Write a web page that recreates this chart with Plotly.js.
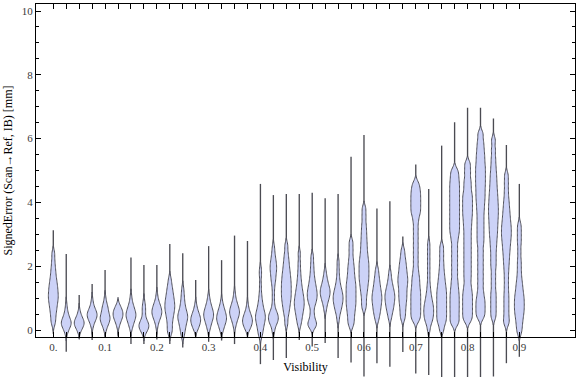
<!DOCTYPE html>
<html>
<head>
<meta charset="utf-8">
<script src="https://cdn.plot.ly/plotly-3.0.1.min.js"></script>
<style>html,body{margin:0;padding:0;background:#fff;}#chart{width:576px;height:377px;}</style>
</head>
<body>
<div id="chart"></div>
<script>
// Visibility categories (x positions of the violins)
const visibility = [0, 0.025, 0.05, 0.075, 0.1, 0.125, 0.15, 0.175, 0.2, 0.225, 0.25, 0.275, 0.3, 0.325, 0.35, 0.375,
  0.4, 0.425, 0.45, 0.475, 0.5, 0.525, 0.55, 0.575, 0.6, 0.625, 0.65, 0.675, 0.7, 0.725, 0.75, 0.775,
  0.8, 0.825, 0.85, 0.875, 0.9];
const xTickText = ['0.', '', '', '', '0.1', '', '', '', '0.2', '', '', '', '0.3', '', '', '', '0.4', '', '', '', '0.5', '', '', '', '0.6', '', '', '', '0.7', '', '', '', '0.8', '', '', '', '0.9'];
const yTickVals = [0, 2, 4, 6, 8, 10];
const yMinorTickVals = [0.5, 1, 1.5, 2.5, 3, 3.5, 4.5, 5, 5.5, 6.5, 7, 7.5, 8.5, 9, 9.5];

// Extreme signed errors [mm] per visibility bin (ends of the thin tails)
const errMin = [-0.12, -0.68, -0.25, -0.31, -0.2, -0.2, -0.44, -0.44, -0.3, -0.44, -0.55, -0.2, -0.37, -0.33, -0.44, -0.12,
  -1.07, -0.94, -0.88, -0.31, -0.52, -0.41, -0.88, -1.02, -1.46, -1.04, -1.15, -0.69, -1.36, -1.41, -1.6, -1.6,
  -1.6, -1.6, -1.46, -1.04, -0.84];
const errMax = [3.13, 2.38, 1.1, 1.44, 1.88, 0.94, 2.27, 2.04, 2.04, 2.7, 2.41, 1.57, 2.63, 2.19, 2.96, 2.79,
  4.58, 4.23, 4.26, 4.26, 4.3, 4.13, 4.26, 5.43, 6.11, 3.81, 4.04, 2.93, 5.19, 4.42, 5.78, 6.51,
  6.97, 6.97, 6.63, 5.8, 4.58];

// Bulk of the signed error samples [mm] per visibility bin
const err000 = [0.2, 0.35, 0.5, 0.62, 0.72, 0.82, 0.9, 0.98, 1.05, 1.12, 1.2, 1.28, 1.36, 1.45, 1.55, 1.66, 1.8, 1.95, 2.15, 2.4];
const err025 = [-0.1, -0.02, 0.05, 0.1, 0.13, 0.16, 0.19, 0.21, 0.23, 0.25, 0.28, 0.31, 0.35, 0.4, 0.46, 0.53, 0.62, 0.8];
const err050 = [-0.05, 0.02, 0.07, 0.11, 0.14, 0.17, 0.19, 0.21, 0.23, 0.25, 0.27, 0.3, 0.33, 0.37, 0.42, 0.48, 0.6];
const err075 = [0.1, 0.22, 0.28, 0.33, 0.37, 0.4, 0.43, 0.46, 0.48, 0.5, 0.53, 0.56, 0.6, 0.65, 0.7, 0.78, 0.95];
const err100 = [0.0, 0.12, 0.18, 0.23, 0.27, 0.31, 0.34, 0.37, 0.4, 0.43, 0.47, 0.52, 0.58, 0.64, 0.7, 0.75, 0.82, 1.0];
const err125 = [0.1, 0.22, 0.28, 0.33, 0.37, 0.41, 0.44, 0.47, 0.5, 0.53, 0.56, 0.59, 0.63, 0.67, 0.72, 0.78];
const err150 = [0.05, 0.15, 0.22, 0.28, 0.33, 0.37, 0.41, 0.44, 0.47, 0.5, 0.53, 0.57, 0.61, 0.66, 0.72, 0.78, 0.86, 1.05];
const err175 = [-0.1, -0.05, 0.0, 0.04, 0.07, 0.1, 0.12, 0.14, 0.16, 0.19, 0.22, 0.26, 0.31, 0.37, 0.5, 0.6, 0.68, 0.76, 0.9];
const err200 = [0.1, 0.25, 0.32, 0.38, 0.42, 0.46, 0.5, 0.53, 0.56, 0.59, 0.62, 0.66, 0.7, 0.74, 0.79, 0.85, 0.92, 1.1];
const err225 = [-0.1, 0.0, 0.12, 0.25, 0.35, 0.44, 0.52, 0.59, 0.65, 0.71, 0.77, 0.83, 0.89, 0.96, 1.03, 1.11, 1.2, 1.3, 1.42, 1.6];
const err250 = [-0.2, -0.08, 0.02, 0.1, 0.17, 0.23, 0.29, 0.34, 0.38, 0.42, 0.46, 0.5, 0.55, 0.61, 0.68, 0.76, 0.86, 0.98, 1.12, 1.3];
const err275 = [0.0, 0.05, 0.11, 0.16, 0.2, 0.24, 0.27, 0.3, 0.33, 0.36, 0.39, 0.43, 0.47, 0.52, 0.58, 0.65, 0.8];
const err300 = [0.0, 0.12, 0.2, 0.26, 0.31, 0.36, 0.4, 0.44, 0.47, 0.5, 0.54, 0.58, 0.62, 0.67, 0.73, 0.8, 0.88, 1.05];
const err325 = [-0.05, 0.05, 0.12, 0.18, 0.23, 0.27, 0.31, 0.34, 0.37, 0.4, 0.44, 0.48, 0.52, 0.57, 0.62, 0.68, 0.75, 0.9];
const err350 = [0.1, 0.22, 0.3, 0.36, 0.41, 0.45, 0.49, 0.53, 0.56, 0.59, 0.62, 0.66, 0.7, 0.75, 0.81, 0.88, 0.96, 1.15];
const err375 = [0.0, 0.05, 0.1, 0.15, 0.19, 0.22, 0.25, 0.28, 0.31, 0.34, 0.37, 0.41, 0.45, 0.5, 0.56, 0.63, 0.8];
const err400 = [-0.2, -0.1, 0.0, 0.08, 0.15, 0.21, 0.27, 0.32, 0.37, 0.41, 0.45, 0.5, 0.55, 0.61, 0.68, 0.76, 0.86, 0.98, 1.15, 1.4, 1.7, 1.9];
const err425 = [-0.05, 0.15, 0.22, 0.28, 0.33, 0.38, 0.43, 0.48, 0.54, 0.62, 0.8, 1.05, 1.3, 1.5, 1.6, 1.72, 1.82, 1.9, 1.98, 2.06, 2.15, 2.26, 2.4, 2.6];
const err450 = [0.2, 0.45, 0.6, 0.72, 0.82, 0.92, 1.0, 1.08, 1.16, 1.24, 1.32, 1.4, 1.48, 1.56, 1.65, 1.74, 1.84, 1.95, 2.08, 2.22, 2.4, 2.65];
const err475 = [0.15, 0.3, 0.4, 0.5, 0.58, 0.65, 0.72, 0.78, 0.84, 0.9, 0.96, 1.03, 1.1, 1.18, 1.27, 1.37, 1.5, 1.65, 1.85, 2.1, 2.4];
const err500 = [0.1, 0.15, 0.2, 0.25, 0.4, 0.55, 0.75, 0.85, 0.93, 1.0, 1.07, 1.13, 1.2, 1.27, 1.35, 1.44, 1.55, 1.68, 1.85, 2.05, 2.3];
const err525 = [0.6, 0.75, 0.85, 0.92, 0.98, 1.03, 1.08, 1.12, 1.16, 1.2, 1.24, 1.28, 1.32, 1.37, 1.43, 1.5, 1.58, 1.68, 1.85];
const err550 = [0.3, 0.5, 0.6, 0.68, 0.75, 0.81, 0.87, 0.92, 0.97, 1.02, 1.07, 1.12, 1.18, 1.24, 1.31, 1.4, 1.52, 1.68, 1.9, 2.15];
const err575 = [0.15, 0.3, 0.45, 0.58, 0.7, 0.8, 0.9, 1.0, 1.1, 1.2, 1.3, 1.4, 1.5, 1.62, 1.75, 1.9, 2.05, 2.25, 2.5, 2.75];
const err600 = [0.7, 0.9, 1.1, 1.25, 1.38, 1.5, 1.6, 1.7, 1.8, 1.9, 2.0, 2.1, 2.2, 2.32, 2.45, 2.6, 2.75, 2.92, 3.1, 3.3, 3.55, 3.8];
const err625 = [0.3, 0.45, 0.55, 0.64, 0.72, 0.8, 0.87, 0.94, 1.0, 1.06, 1.13, 1.2, 1.28, 1.37, 1.47, 1.58, 1.72, 1.9];
const err650 = [0.35, 0.5, 0.6, 0.68, 0.75, 0.82, 0.88, 0.94, 1.0, 1.05, 1.1, 1.16, 1.22, 1.29, 1.37, 1.47, 1.6, 1.8];
const err675 = [0.35, 0.5, 0.65, 0.78, 0.9, 1.0, 1.1, 1.2, 1.3, 1.4, 1.48, 1.56, 1.64, 1.72, 1.82, 1.92, 2.03, 2.15, 2.3, 2.5];
const err700 = [0.3, 0.42, 0.54, 0.66, 0.78, 0.9, 1.02, 1.14, 1.26, 1.4, 1.55, 1.7, 1.9, 2.15, 2.4, 2.65, 2.9, 3.15, 3.4,
  3.6, 3.72, 3.84, 3.96, 4.08, 4.2, 4.32, 4.45, 4.6];
const err725 = [0.0, 0.2, 0.28, 0.35, 0.42, 0.48, 0.54, 0.6, 0.66, 0.72, 0.78, 0.85, 0.93, 1.02, 1.13, 1.27, 1.45, 1.7, 1.95, 2.2, 2.45, 2.7];
const err750 = [0.0, 0.2, 0.3, 0.4, 0.5, 0.6, 0.7, 0.8, 0.9, 1.0, 1.1, 1.2, 1.3, 1.42, 1.55, 1.7, 1.88, 2.1, 2.35, 2.6];
const err775 = [0.2, 0.35, 0.52, 0.68, 0.84, 1.0, 1.16, 1.34, 1.55, 1.8, 2.05, 2.3, 2.55, 2.8,
  3.0, 3.15, 3.3, 3.45, 3.6, 3.75, 3.9, 4.05, 4.2, 4.35, 4.5, 4.65, 4.82, 5.0];
const err800 = [0.3, 0.45, 0.6, 0.75, 0.9, 1.05, 1.2, 1.38, 1.6, 1.8, 2.0, 2.2, 2.4, 2.6, 2.8, 3.0, 3.2, 3.38, 3.55,
  3.7, 3.85, 4.0, 4.15, 4.3, 4.5, 4.7, 4.95, 5.2];
const err825 = [0.4, 0.55, 0.7, 0.85, 1.0, 1.2, 1.45, 1.7, 1.95, 2.2, 2.45, 2.7, 2.9, 3.1, 3.3, 3.5, 3.7, 3.88, 4.05,
  4.2, 4.35, 4.5, 4.64, 4.78, 4.92, 5.06, 5.2, 5.36, 5.52, 5.7, 5.9, 6.15];
const err850 = [0.4, 0.6, 0.8, 1.0, 1.2, 1.45, 1.7, 1.95, 2.15, 2.35, 2.55, 2.72, 2.88, 3.02, 3.15, 3.28, 3.4, 3.52,
  3.63, 3.74, 3.85, 3.96, 4.08, 4.2, 4.33, 4.47, 4.62, 4.78, 4.95, 5.15, 5.38, 5.65, 5.95];
const err875 = [0.2, 0.35, 0.55, 0.75, 0.95, 1.15, 1.38, 1.62, 1.85, 2.05, 2.22, 2.38, 2.52, 2.65, 2.77, 2.88, 2.98,
  3.08, 3.18, 3.28, 3.39, 3.51, 3.64, 3.78, 3.94, 4.12, 4.35, 4.6, 4.85];
const err900 = [-0.1, 0.05, 0.18, 0.3, 0.4, 0.5, 0.58, 0.66, 0.74, 0.82, 0.9, 0.98, 1.06, 1.15, 1.25, 1.36, 1.48,
  1.62, 1.8, 2.0, 2.2, 2.45, 2.7, 2.9, 3.1, 3.3];

const samples = [err000, err025, err050, err075, err100, err125, err150, err175, err200, err225, err250, err275,
  err300, err325, err350, err375, err400, err425, err450, err475, err500, err525, err550, err575, err600,
  err625, err650, err675, err700, err725, err750, err775, err800, err825, err850, err875, err900];

const fillColor = 'rgb(204,210,247)';
const edgeColor = 'rgb(80,80,90)';
const serif = 'Liberation Serif, Times New Roman, serif';

// thin range lines (min..max) drawn beneath the violins
const traces = [{
  type: 'bar',
  x: visibility,
  base: errMin,
  y: errMax.map((v, i) => v - errMin[i]),
  width: 0.0026,
  marker: {color: 'rgb(75,75,82)', line: {width: 0}},
  xaxis: 'x', yaxis: 'y',
  showlegend: false, hoverinfo: 'skip'
}];
samples.forEach((s, i) => traces.push({
  type: 'violin',
  x0: visibility[i],
  y: s,
  xaxis: 'x', yaxis: 'y',
  width: 0.019,
  bandwidth: 0.12,
  spanmode: 'soft',
  points: false,
  box: {visible: false},
  meanline: {visible: false},
  fillcolor: fillColor,
  line: {color: edgeColor, width: 1},
  showlegend: false,
  hoverinfo: 'skip'
}));
// empty trace that activates the framed subplot carrying the visible axes
traces.push({type: 'scatter', x: [], y: [], xaxis: 'x2', yaxis: 'y2', showlegend: false, hoverinfo: 'skip'});

const xRange = [-0.0334, 1.0075];
const layout = {
  width: 576, height: 377,
  margin: {l: 36, r: 1, t: 4, b: 0, pad: 0},
  paper_bgcolor: '#ffffff',
  plot_bgcolor: 'rgba(0,0,0,0)',
  showlegend: false,
  violinmode: 'overlay',
  barmode: 'overlay',
  font: {family: serif, size: 11, color: '#333'},
  xaxis: {domain: [0, 1], range: xRange, visible: false, anchor: 'y', fixedrange: true},
  yaxis: {domain: [0, 1], range: [-1.473, 10.22], visible: false, anchor: 'x', fixedrange: true},
  xaxis2: {
    domain: [0, 1], range: xRange, anchor: 'y2',
    tickmode: 'array', tickvals: visibility, ticktext: xTickText,
    ticks: 'inside', ticklen: 5, tickwidth: 1, tickcolor: '#000',
    showline: true, linecolor: '#000', linewidth: 1, mirror: 'ticks',
    showgrid: false, zeroline: false,
    tickfont: {family: serif, size: 11, color: '#3a3a3a'},
    title: {text: 'Visibility', font: {family: serif, size: 12, color: '#000'}, standoff: 10}
  },
  yaxis2: {
    domain: [0.1072, 1], range: [-0.219, 10.22], anchor: 'x2',
    tickmode: 'array', tickvals: yTickVals, ticktext: yTickVals.map(String),
    ticks: 'inside', ticklen: 5, tickwidth: 1, tickcolor: '#000',
    minor: {tickmode: 'array', tickvals: yMinorTickVals, ticks: 'inside', ticklen: 3, tickwidth: 1, tickcolor: '#000', showgrid: false},
    showline: true, linecolor: '#000', linewidth: 1, mirror: 'ticks',
    showgrid: false, zeroline: false,
    tickfont: {family: serif, size: 11, color: '#3a3a3a'},
    title: {text: 'SignedError (Scan\u2192Ref, IB) [mm]', font: {family: serif, size: 12, color: '#000'}, standoff: 6}
  }
};

Plotly.newPlot('chart', traces, layout, {staticPlot: true, displayModeBar: false});
</script>
</body>
</html>
